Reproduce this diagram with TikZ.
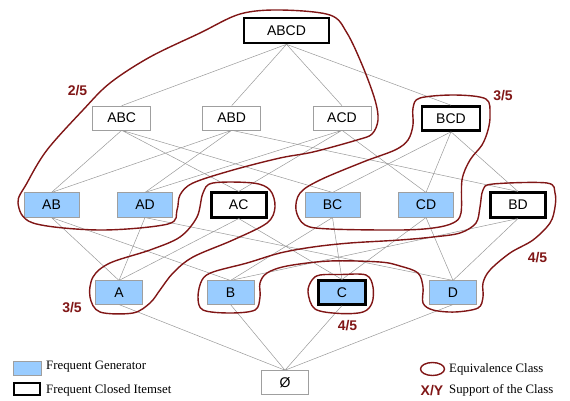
\documentclass[tikz,border=0pt]{standalone}
\usepackage{fontspec}
\setmainfont{Liberation Sans}
\newfontfamily\legendfont{Liberation Serif}
\usepackage{xcolor}
\definecolor{genblue}{RGB}{153,204,255}
\definecolor{classred}{RGB}{128,22,22}

\begin{document}
\begin{tikzpicture}[x=1pt,y=-1pt,
    itemset/.style={draw=gray!75, line width=0.6pt, inner sep=0pt, font=\fontsize{14}{16}\selectfont},
    gen/.style={itemset, fill=genblue},
    closed/.style={draw=black, line width=2.6pt},
    rowfour/.style={minimum width=85pt, minimum height=25pt},
    rowthree/.style={minimum width=58pt, minimum height=24pt},
    rowtwo/.style={minimum width=55pt, minimum height=24.5pt},
    rowone/.style={minimum width=47pt, minimum height=23.5pt},
    edge/.style={gray!80, line width=0.5pt},
    eqclass/.style={classred, line width=1.4pt},
    support/.style={classred, inner sep=0pt, font=\fontsize{14}{16}\selectfont\bfseries},
    legend/.style={anchor=west, inner sep=0pt, font=\legendfont\fontsize{12.8}{15}\selectfont}]
    \useasboundingbox (0,0) rectangle (570,400);

    % Treillis des itemsets
    \node[itemset, closed, rowfour] (ABCD) at (286.5,30.5) {ABCD};
    \node[itemset, rowthree] (ABC) at (121.7,118) {ABC};
    \node[itemset, rowthree] (ABD) at (231.7,118) {ABD};
    \node[itemset, rowthree] (ACD) at (342,118) {ACD};
    \node[itemset, closed, rowthree] (BCD) at (451,118.5) {BCD};
    \node[gen, rowtwo] (AB) at (51.5,205) {AB};
    \node[gen, rowtwo] (AD) at (145,205) {AD};
    \node[itemset, closed, rowtwo] (AC) at (238.7,205) {AC};
    \node[gen, rowtwo] (BC) at (332.5,205) {BC};
    \node[gen, rowtwo] (CD) at (426,205) {CD};
    \node[itemset, closed, rowtwo] (BD) at (518,205) {BD};
    \node[gen, rowone] (A) at (119,292.5) {A};
    \node[gen, rowone] (B) at (230.5,292.5) {B};
    \node[gen, closed, rowone] (C) at (342,292.5) {C};
    \node[gen, rowone] (D) at (453,292.5) {D};
    \node[itemset, rowone, minimum height=24pt] (empty) at (285,382.5) {Ø};

    % Liens du treillis
    \draw[edge] (ABCD.south) -- (ABC.north) (ABCD.south) -- (ABD.north) (ABCD.south) -- (ACD.north) (ABCD.south) -- (BCD.north);
    \draw[edge] (ABC.south) -- (AB.north) (ABC.south) -- (AC.north) (ABC.south) -- (BC.north);
    \draw[edge] (ABD.south) -- (AB.north) (ABD.south) -- (AD.north) (ABD.south) -- (BD.north);
    \draw[edge] (ACD.south) -- (AC.north) (ACD.south) -- (AD.north) (ACD.south) -- (CD.north);
    \draw[edge] (BCD.south) -- (BC.north) (BCD.south) -- (BD.north) (BCD.south) -- (CD.north);
    \draw[edge] (AB.south) -- (A.north) (AB.south) -- (B.north) (AD.south) -- (A.north) (AD.south) -- (D.north);
    \draw[edge] (AC.south) -- (A.north) (AC.south) -- (C.north) (BC.south) -- (B.north) (BC.south) -- (C.north);
    \draw[edge] (CD.south) -- (C.north) (CD.south) -- (D.north) (BD.south) -- (B.north) (BD.south) -- (D.north);
    \draw[edge] (A.south) -- (empty.north) (B.south) -- (empty.north) (C.south) -- (empty.north) (D.south) -- (empty.north);

    % Classes d'equivalence
    \draw[eqclass] plot[smooth cycle, tension=0.55] coordinates {(240,14) (280,10) (330,15) (347,33) (363,67) (375,100) (378,120) (372,134) (357,140) (313,152) (280,158) (233,170) (193,183) (180,195) (177,210) (168,224) (100,230) (33,223) (18,203) (27,183) (47,150) (83,110) (110,83) (150,57) (200,33)};
    \draw[eqclass] plot[smooth cycle, tension=0.55] coordinates {(420,98) (455,95) (486,99) (490,115) (488,130) (482,145) (470,160) (462,180) (461,213) (453,223) (433,228) (400,230) (330,229) (305,225) (296,210) (300,193) (320,180) (363,162) (395,150) (408,140) (413,125) (413,108)};
    \draw[eqclass] plot[smooth cycle, tension=0.55] coordinates {(213,183) (253,183) (270,190) (275,207) (267,223) (233,240) (193,257) (173,273) (160,290) (150,303) (133,313) (100,312) (90,297) (93,277) (110,263) (150,250) (180,237) (197,217) (203,193)};
    \draw[eqclass] plot[smooth cycle, tension=0.55] coordinates {(493,184) (547,183) (555,193) (555,207) (550,223) (533,240) (510,253) (490,270) (483,283) (483,297) (478,308) (455,312) (433,310) (423,303) (423,287) (418,273) (400,266) (380,262) (330,261) (287,266) (267,273) (260,283) (260,297) (255,310) (230,313) (203,310) (198,297) (202,280) (213,272) (247,263) (280,253) (313,247) (350,243) (400,240) (433,237) (460,233) (476,223) (480,207) (483,190)};
    \draw[eqclass] plot[smooth cycle, tension=0.55] coordinates {(320,275) (340,274.5) (366,275) (373,287) (372,303) (363,312) (340,313.5) (315,309) (308,292) (312,280)};

    % Supports
    \node[support] (supABCD) at (77.5,91) {2/5};
    \node[support] (supBCD) at (503,96) {3/5};
    \node[support] (supAC) at (72,307.5) {3/5};
    \node[support] (supC) at (347.5,326) {4/5};
    \node[support] (supBD) at (537.5,258) {4/5};

    % Legende
    \node[gen, minimum width=28pt, minimum height=14pt] (lgen) at (27,368) {};
    \node[itemset, closed, minimum width=26pt, minimum height=12pt] (lclosed) at (27,389) {};
    \node[legend] (tgen) at (46,367) {Frequent Generator};
    \node[legend] (tclosed) at (46,390) {Frequent Closed Itemset};
    \draw[eqclass] (432.5,369) ellipse (12pt and 6.5pt);
    \node[legend] (tclass) at (449,369) {Equivalence Class};
    \node[support] (lsup) at (432,391) {X/Y};
    \node[legend] (tsup) at (449,390) {Support of the Class};
\end{tikzpicture}
\end{document}
